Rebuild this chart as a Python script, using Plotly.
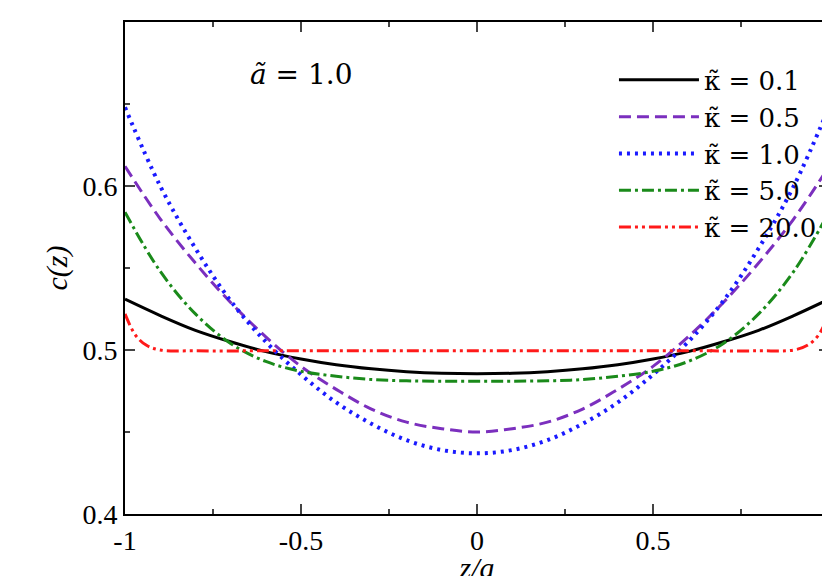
import plotly.graph_objects as go

z_half = [0, 0.1, 0.2, 0.3, 0.4, 0.5, 0.6, 0.7, 0.8, 0.9, 1.0]
k01 = [0.4855, 0.4858, 0.4868, 0.4885, 0.4910, 0.4945, 0.499, 0.505, 0.512, 0.521, 0.531]
k05 = [0.450, 0.452, 0.456, 0.464, 0.476, 0.490, 0.508, 0.529, 0.553, 0.580, 0.612]
k1 = [0.437, 0.439, 0.445, 0.455, 0.468, 0.485, 0.505, 0.530, 0.562, 0.600, 0.648]
k5 = [0.481, 0.481, 0.4812, 0.482, 0.484, 0.487, 0.493, 0.504, 0.522, 0.548, 0.584]
z20_half = [0, 0.2, 0.4, 0.6, 0.8, 0.9, 0.94, 0.97, 1.0]
k20 = [0.4995, 0.4995, 0.4995, 0.4995, 0.4995, 0.500, 0.503, 0.509, 0.522]

def full(zh, v):
    z = [-x for x in reversed(zh[1:])] + zh
    y = list(reversed(v[1:])) + v
    return z, y

series = [
    ("κ̃ = 0.1", z_half, k01, "black", "solid", 3),
    ("κ̃ = 0.5", z_half, k05, "#7b2fbe", "12px,6px", 3),
    ("κ̃ = 1.0", z_half, k1, "#1a1aff", "3px,5px", 4),
    ("κ̃ = 5.0", z_half, k5, "#1a8a1a", "12px,4px,3px,4px", 3),
    ("κ̃ = 20.0", z20_half, k20, "#ff1a1a", "12px,4px,3px,4px,3px,4px", 3),
]

fig = go.Figure()
for name, zh, v, c, d, w in series:
    z, y = full(zh, v)
    fig.add_trace(go.Scatter(x=z, y=y, mode="lines", name=name,
                             line=dict(color=c, dash=d, width=w, shape="spline", smoothing=1.0)))

ax = dict(showline=True, linecolor="black", linewidth=2, mirror="ticks", ticks="inside", ticklen=10,
          tickwidth=1.5, showgrid=False, zeroline=False, tickfont=dict(size=28), automargin=False)
fig.update_xaxes(**ax, range=[-1, 1], tickvals=[-1, -0.5, 0, 0.5, 1], ticktext=["-1", "-0.5", "0", "0.5", "1"],
                 minor=dict(ticks="inside", ticklen=5, dtick=0.25, tick0=0, showgrid=False),
                 title=dict(text="<i>z/a</i>", font=dict(size=30), standoff=0))
fig.update_yaxes(**ax, range=[0.4, 0.7], tickvals=[0.4, 0.5, 0.6, 0.7], ticktext=["0.4", "0.5", "0.6", "0.7"],
                 minor=dict(ticks="inside", ticklen=5, dtick=0.05, tick0=0.4, showgrid=False),
                 title=dict(text="<i>c(z)</i>", font=dict(size=30), standoff=6))
fig.add_annotation(x=-0.5, y=0.668, xref="x", yref="y", text="<i>ã</i> = 1.0", showarrow=False,
                   font=dict(size=28, family="DejaVu Serif"))
fig.update_layout(
    width=830, height=576, margin=dict(l=117, r=9, t=14, b=70, autoexpand=False),
    plot_bgcolor="white", paper_bgcolor="white",
    font=dict(family="Liberation Serif", color="black"),
    legend=dict(x=0.99, y=0.93, xanchor="right", yanchor="top", bgcolor="rgba(0,0,0,0)",
                font=dict(size=26, family="DejaVu Serif"), tracegroupgap=0, itemwidth=80),
    showlegend=True,
)
fig.write_html("out.html")
